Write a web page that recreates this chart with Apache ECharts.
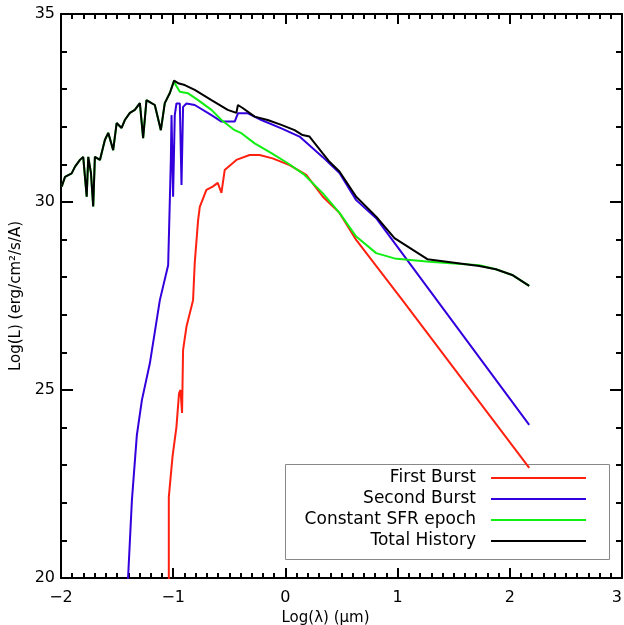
<!DOCTYPE html>
<html>
<head>
<meta charset="utf-8">
<script src="https://cdn.jsdelivr.net/npm/echarts@6/dist/echarts.min.js"></script>
<style>html,body{margin:0;padding:0;background:#fff;overflow:hidden;}#chart{width:624px;height:625px;}</style>
</head>
<body>
<div id="chart"></div>
<script>
// Log(lambda) [micron] and Log(L) values
const seriesNames = ['First Burst', 'Second Burst', 'Constant SFR epoch', 'Total History'];
const seriesColors = ['#ff2010', '#3300dd', '#11ee11', '#000000'];

const redX = [-1.039,-1.039,-1.006,-0.971,-0.948,-0.935,-0.921,-0.912,-0.882,-0.823,-0.808,-0.778,-0.763,-0.704,-0.648,-0.603,-0.570,-0.541,-0.437,-0.319,-0.230,-0.114,0.037,0.186,0.334,0.482,0.631,1.043,2.173];
const redY = [19.9,22.16,23.23,24.02,24.91,25.0,24.39,26.06,26.68,27.39,28.38,29.52,29.87,30.32,30.41,30.51,30.24,30.85,31.12,31.25,31.25,31.16,30.98,30.72,30.14,29.71,28.99,27.39,22.93];

const blueX = [-1.404,-1.368,-1.324,-1.279,-1.208,-1.119,-1.045,-1.030,-1.021,-1.015,-1.001,-0.986,-0.971,-0.941,-0.926,-0.912,-0.882,-0.808,-0.659,-0.570,-0.452,-0.423,-0.334,-0.214,-0.036,0.126,0.331,0.482,0.631,0.809,2.173];
const blueY = [19.9,22.07,23.80,24.73,25.71,27.39,28.32,30.05,31.12,32.31,30.14,32.31,32.62,32.62,30.45,32.53,32.62,32.58,32.31,32.14,32.14,32.36,32.36,32.18,31.96,31.74,31.20,30.77,30.05,29.57,24.07];

const greenX = [-1.994,-1.964,-1.905,-1.875,-1.831,-1.802,-1.771,-1.757,-1.733,-1.713,-1.698,-1.653,-1.609,-1.579,-1.535,-1.504,-1.460,-1.431,-1.386,-1.342,-1.297,-1.268,-1.238,-1.193,-1.164,-1.110,-1.075,-1.030,-0.992,-0.986,-0.941,-0.867,-0.778,-0.659,-0.570,-0.452,-0.392,-0.274,-0.125,0.022,0.171,0.334,0.482,0.631,0.809,0.972,1.283,1.728,1.876,2.021,2.173];
const greenY = [30.41,30.67,30.76,30.94,31.12,31.20,30.14,31.20,30.77,29.88,31.20,31.12,31.65,31.84,31.38,32.10,31.97,32.18,32.37,32.45,32.63,31.70,32.71,32.63,32.58,31.91,32.63,32.90,33.23,33.16,32.93,32.89,32.71,32.45,32.18,31.91,31.83,31.56,31.30,31.03,30.72,30.23,29.71,29.08,28.64,28.50,28.41,28.32,28.21,28.06,27.77];

const blackX = [-1.994,-1.964,-1.905,-1.875,-1.831,-1.802,-1.771,-1.757,-1.733,-1.713,-1.698,-1.653,-1.609,-1.579,-1.535,-1.504,-1.460,-1.431,-1.386,-1.342,-1.297,-1.268,-1.238,-1.193,-1.164,-1.110,-1.075,-1.030,-0.992,-0.956,-0.897,-0.808,-0.659,-0.514,-0.437,-0.423,-0.381,-0.274,-0.158,-0.036,0.082,0.153,0.215,0.331,0.393,0.482,0.631,0.809,0.972,1.265,1.728,1.876,2.021,2.173];
const blackY = [30.41,30.67,30.76,30.94,31.12,31.20,30.14,31.20,30.77,29.88,31.20,31.12,31.65,31.84,31.38,32.10,31.97,32.18,32.37,32.45,32.63,31.70,32.71,32.63,32.58,31.91,32.63,32.90,33.23,33.16,33.11,32.98,32.71,32.45,32.37,32.58,32.50,32.27,32.18,32.05,31.91,31.78,31.74,31.30,31.07,30.81,30.14,29.61,29.04,28.48,28.30,28.21,28.06,27.77];

const xTicks = [-2, -1, 0, 1, 2, 3];
const yTicks = [20, 25, 30, 35];

function zip(xs, ys) { return xs.map((x, i) => [x, ys[i]]); }

const FONT = 'DejaVu Sans';
const chart = echarts.init(document.getElementById('chart'), null, { renderer: 'canvas', width: 624, height: 625 });

function xAxisDef(pos, showLabel) {
  return {
    type: 'value', position: pos, min: xTicks[0], max: xTicks[xTicks.length - 1], interval: 1,
    axisLine: { show: true, onZero: false, lineStyle: { color: '#000', width: 2 } },
    axisTick: { show: true, inside: true, length: 10, lineStyle: { color: '#000', width: 2 } },
    minorTick: { show: true, splitNumber: 10, length: 5, lineStyle: { color: '#000', width: 2 } },
    splitLine: { show: false }, minorSplitLine: { show: false },
    axisLabel: { show: showLabel, margin: 12, color: '#000', fontFamily: FONT, fontSize: 16, alignMaxLabel: 'right',
      formatter: v => String(v).replace('-', '\u2212') },
    name: showLabel ? 'Log(\u03bb) (\u03bcm)' : '', nameLocation: 'middle', nameGap: 31,
    nameTextStyle: { color: '#000', fontFamily: FONT, fontSize: 15, padding: [0, 32, 0, 0] }
  };
}
function yAxisDef(pos, showLabel) {
  return {
    type: 'value', position: pos, min: yTicks[0], max: yTicks[yTicks.length - 1], interval: 5,
    axisLine: { show: true, onZero: false, lineStyle: { color: '#000', width: 2 } },
    axisTick: { show: true, inside: true, length: 12, lineStyle: { color: '#000', width: 2 } },
    minorTick: { show: true, splitNumber: 5, length: 6, lineStyle: { color: '#000', width: 2 } },
    splitLine: { show: false }, minorSplitLine: { show: false },
    axisLabel: { show: showLabel, margin: 6, color: '#000', fontFamily: FONT, fontSize: 16 },
    name: showLabel ? 'Log(L) (erg/cm\u00b2/s/A)' : '', nameLocation: 'middle', nameGap: 35, nameRotate: 90,
    nameTextStyle: { color: '#000', fontFamily: FONT, fontSize: 15 }
  };
}

const data = [zip(redX, redY), zip(blueX, blueY), zip(greenX, greenY), zip(blackX, blackY)];

const legendTop = 468, legendStep = 21;
const legendGraphics = [{
  type: 'rect', left: 283, top: 462, shape: { width: 324, height: 95 },
  style: { fill: 'none', stroke: '#888', lineWidth: 1 }, z: 1
}];
seriesNames.forEach((n, i) => {
  const y = legendTop + 10 + i * legendStep;
  legendGraphics.push({ type: 'text', x: 476, y: y, style: { text: n, fill: '#000', font: '17px "DejaVu Sans"', textAlign: 'right', textVerticalAlign: 'middle' }, z: 10 });
  legendGraphics.push({ type: 'line', shape: { x1: 491, y1: y, x2: 586, y2: y }, style: { stroke: seriesColors[i], lineWidth: 2 }, z: 10 });
});

chart.setOption({
  animation: false,
  backgroundColor: '#fff',
  grid: { left: 61, right: 2, top: 14, bottom: 47, containLabel: false, outerBoundsMode: 'none' },
  xAxis: [xAxisDef('bottom', true), xAxisDef('top', false)],
  yAxis: [yAxisDef('left', true), yAxisDef('right', false)],
  graphic: legendGraphics,
  series: seriesNames.map((n, i) => ({
    name: n, type: 'line', xAxisIndex: 0, yAxisIndex: 0, data: data[i], showSymbol: false,
    clip: true, lineStyle: { color: seriesColors[i], width: 2 }, itemStyle: { color: seriesColors[i] }, z: 3 + i
  }))
});
</script>
</body>
</html>
